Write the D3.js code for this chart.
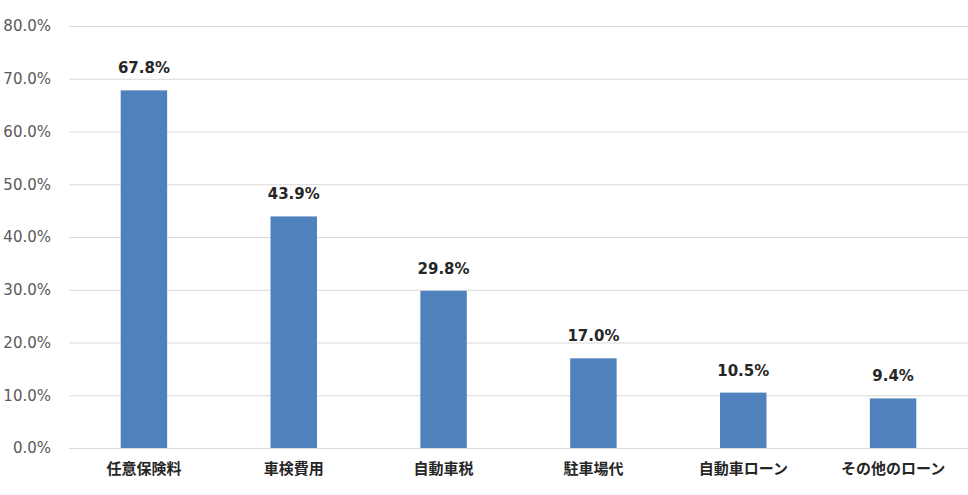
<!DOCTYPE html>
<html lang="ja">
<head>
  <meta charset="UTF-8">
  <script src="https://d3js.org/d3.v7.min.js"></script>
  <style>
    * { margin: 0; padding: 0; }
    body { background: #fff; font-family: "Noto Sans CJK JP", "DejaVu Sans", sans-serif; }
  </style>
</head>
<body>
  <div id="chart"></div>
  <script>
    const categories = ["任意保険料", "車検費用", "自動車税", "駐車場代", "自動車ローン", "その他のローン"];
    const values = [67.8, 43.9, 29.8, 17.0, 10.5, 9.4];
    const yTicks = [0, 10, 20, 30, 40, 50, 60, 70, 80];

    const W = 968, H = 495;
    const margin = {top: 26, right: 0, bottom: 47, left: 69};
    const width = W - margin.left - margin.right,
          height = H - margin.top - margin.bottom;

    const svg = d3.select("#chart").append("svg")
      .attr("width", W).attr("height", H)
      .append("g")
      .attr("transform", `translate(${margin.left},${margin.top})`);

    const x = d3.scaleBand().domain(categories).range([0, width]).paddingInner(0.69).paddingOuter(0.345);
    const y = d3.scaleLinear().domain([0, 80]).range([height, 0]);

    svg.append("g")
      .call(d3.axisLeft(y).tickValues(yTicks).tickSize(-width).tickFormat(d => d.toFixed(1) + "%"))
      .call(g => g.select(".domain").remove())
      .call(g => g.selectAll("line").attr("stroke", "#d9d9d9"))
      .call(g => g.selectAll("text").attr("x", -18).attr("fill", "#595959")
        .style("font-family", "'DejaVu Sans', sans-serif").style("font-size", "15px"));

    svg.selectAll(".bar").data(values).enter().append("rect")
      .attr("class", "bar")
      .attr("x", (d, i) => x(categories[i]))
      .attr("y", d => y(d))
      .attr("width", x.bandwidth())
      .attr("height", d => height - y(d))
      .attr("fill", "#4f81bd");

    svg.selectAll(".label").data(values).enter().append("text")
      .attr("x", (d, i) => x(categories[i]) + x.bandwidth() / 2)
      .attr("y", d => y(d) - 17)
      .attr("text-anchor", "middle")
      .attr("fill", "#262626")
      .style("font-family", "'DejaVu Sans', sans-serif")
      .style("font-size", "15px").style("font-weight", "bold")
      .text(d => d.toFixed(1) + "%");

    svg.append("g")
      .attr("transform", `translate(0,${height})`)
      .call(d3.axisBottom(x).tickSize(0).tickPadding(15))
      .call(g => g.select(".domain").remove())
      .call(g => g.selectAll("text").attr("fill", "#262626")
        .style("font-family", "'Noto Sans CJK JP', sans-serif")
        .style("font-size", "15px").style("font-weight", "bold"));
  </script>
</body>
</html>
